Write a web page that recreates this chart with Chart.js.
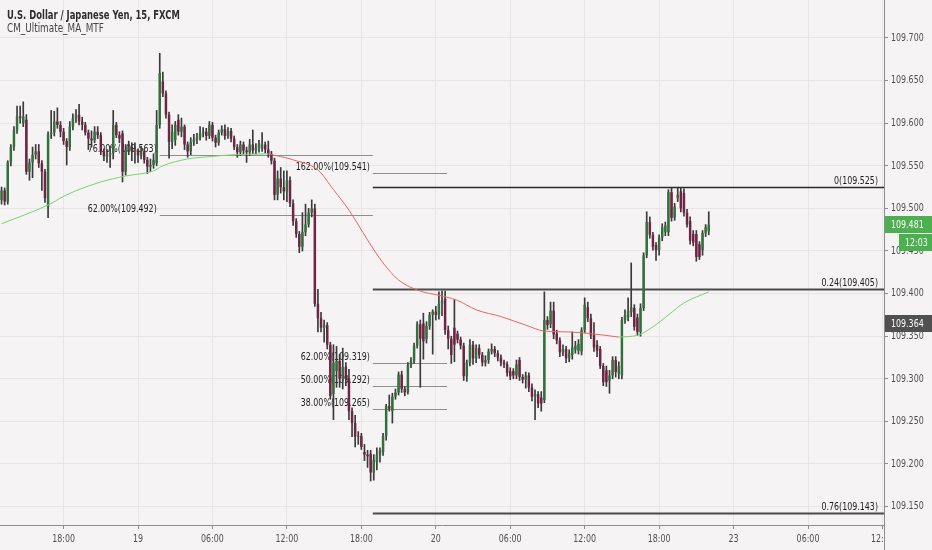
<!DOCTYPE html>
<html>
<head>
<meta charset="utf-8">
<script src="https://cdn.jsdelivr.net/npm/chart.js@4.4.1/dist/chart.umd.min.js"></script>
<style>
html, body { margin: 0; padding: 0; background: #f5f3f4; }
canvas { display: block; }
</style>
</head>
<body>
<canvas id="chart" width="932" height="550"></canvas>
<script>
// USDJPY 15 min candles (one entry per bar)
const opens = [
  109.510,109.521,109.508,109.554,109.572,109.592,109.608,109.600,109.604,109.543,
  109.554,109.563,109.567,109.553,109.543,109.502,109.587,109.589,109.602,109.598,
  109.590,109.579,109.572,109.596,109.606,109.610,109.602,109.598,109.589,109.582,
  109.580,109.590,109.586,109.567,109.561,109.563,109.565,109.598,109.586,109.588,
  109.543,109.569,109.572,109.567,109.569,109.562,109.567,109.557,109.549,109.551,
  109.553,109.598,109.649,109.635,109.610,109.578,109.580,109.604,109.590,109.596,
  109.575,109.567,109.578,109.581,109.583,109.588,109.590,109.585,109.598,109.583,
  109.577,109.589,109.593,109.585,109.591,109.582,109.572,109.566,109.575,109.568,
  109.566,109.575,109.568,109.571,109.570,109.575,109.569,109.564,109.556,109.516,
  109.535,109.525,109.520,109.533,109.506,109.485,109.470,109.455,109.472,109.481,
  109.495,109.500,109.388,109.371,109.360,109.363,109.340,109.282,109.309,109.321,
  109.300,109.314,109.300,109.262,109.248,109.232,109.233,109.214,109.211,109.212,
  109.190,109.202,109.211,109.214,109.233,109.268,109.262,109.279,109.284,109.305,
  109.288,109.284,109.316,109.321,109.339,109.364,109.365,109.347,109.362,109.375,
  109.379,109.375,109.388,109.394,109.357,109.347,109.360,109.353,109.346,109.339,
  109.303,109.319,109.340,109.324,109.336,109.328,109.319,109.322,109.332,109.335,
  109.330,109.325,109.319,109.317,109.309,109.309,109.304,109.322,109.302,109.299,
  109.304,109.290,109.279,109.282,109.278,109.275,109.369,109.364,109.380,109.353,
  109.345,109.331,109.335,109.324,109.328,109.334,109.333,109.332,109.357,109.384,
  109.371,109.352,109.340,109.335,109.315,109.310,109.298,109.304,109.322,109.306,
  109.304,109.369,109.372,109.378,109.383,109.372,109.355,109.383,109.445,109.484,
  109.469,109.457,109.451,109.466,109.472,109.472,109.519,109.489,109.512,109.520,
  109.518,109.495,109.485,109.470,109.470,109.458,109.451,109.471,109.473
];
const highs = [
  109.525,109.524,109.556,109.575,109.596,109.620,109.620,109.625,109.610,109.558,
  109.572,109.575,109.575,109.556,109.546,109.590,109.615,109.614,109.618,109.602,
  109.594,109.582,109.602,109.611,109.616,109.622,109.607,109.601,109.592,109.591,
  109.596,109.596,109.589,109.570,109.569,109.573,109.615,109.601,109.590,109.591,
  109.575,109.579,109.577,109.577,109.570,109.573,109.570,109.560,109.558,109.564,
  109.615,109.682,109.660,109.638,109.613,109.598,109.602,109.610,109.606,109.598,
  109.578,109.583,109.587,109.588,109.596,109.595,109.594,109.602,109.601,109.586,
  109.592,109.597,109.598,109.595,109.594,109.585,109.575,109.579,109.578,109.572,
  109.581,109.592,109.576,109.580,109.589,109.578,109.579,109.567,109.559,109.544,
  109.548,109.544,109.544,109.537,109.510,109.488,109.473,109.495,109.505,109.500,
  109.510,109.505,109.405,109.378,109.369,109.366,109.343,109.340,109.338,109.329,
  109.336,109.319,109.311,109.266,109.257,109.238,109.236,109.223,109.216,109.216,
  109.211,109.219,109.219,109.236,109.270,109.281,109.283,109.288,109.308,109.309,
  109.291,109.319,109.325,109.342,109.367,109.369,109.377,109.367,109.378,109.381,
  109.385,109.402,109.403,109.403,109.362,109.350,109.393,109.356,109.349,109.342,
  109.322,109.346,109.344,109.340,109.340,109.331,109.327,109.335,109.341,109.338,
  109.333,109.328,109.322,109.320,109.313,109.312,109.322,109.325,109.305,109.308,
  109.307,109.294,109.287,109.285,109.285,109.402,109.373,109.390,109.390,109.357,
  109.348,109.340,109.338,109.334,109.355,109.344,109.346,109.360,109.395,109.390,
  109.376,109.366,109.345,109.338,109.318,109.315,109.310,109.326,109.326,109.320,
  109.372,109.381,109.395,109.436,109.387,109.376,109.388,109.448,109.496,109.490,
  109.472,109.460,109.469,109.482,109.484,109.522,109.524,109.506,109.524,109.524,
  109.523,109.499,109.490,109.474,109.474,109.461,109.474,109.481,109.496
];
const lows = [
  109.505,109.504,109.505,109.550,109.568,109.588,109.600,109.596,109.540,109.533,
  109.536,109.558,109.548,109.521,109.507,109.489,109.582,109.585,109.594,109.584,
  109.575,109.551,109.568,109.592,109.601,109.598,109.592,109.586,109.569,109.572,
  109.577,109.582,109.563,109.556,109.554,109.548,109.558,109.583,109.577,109.531,
  109.539,109.563,109.556,109.553,109.554,109.558,109.553,109.541,109.543,109.547,
  109.550,109.594,109.631,109.606,109.559,109.570,109.574,109.586,109.584,109.569,
  109.560,109.563,109.574,109.576,109.580,109.584,109.580,109.582,109.579,109.572,
  109.574,109.586,109.581,109.582,109.578,109.569,109.560,109.562,109.564,109.554,
  109.562,109.564,109.564,109.566,109.567,109.565,109.560,109.552,109.510,109.510,
  109.518,109.510,109.508,109.502,109.480,109.466,109.448,109.450,109.468,109.478,
  109.490,109.385,109.355,109.355,109.343,109.335,109.276,109.252,109.290,109.290,
  109.288,109.292,109.252,109.232,109.220,109.223,109.217,109.204,109.196,109.180,
  109.181,109.193,109.202,109.210,109.228,109.262,109.248,109.276,109.281,109.284,
  109.280,109.282,109.313,109.318,109.336,109.290,109.323,109.342,109.358,109.329,
  109.369,109.370,109.374,109.352,109.335,109.318,109.320,109.342,109.335,109.298,
  109.297,109.315,109.317,109.319,109.324,109.315,109.315,109.318,109.329,109.326,
  109.321,109.315,109.313,109.303,109.299,109.300,109.300,109.298,109.295,109.289,
  109.285,109.274,109.252,109.266,109.262,109.272,109.358,109.360,109.347,109.341,
  109.326,109.327,109.319,109.320,109.323,109.330,109.329,109.328,109.354,109.367,
  109.347,109.332,109.326,109.312,109.292,109.291,109.283,109.300,109.302,109.300,
  109.300,109.365,109.368,109.373,109.357,109.351,109.350,109.380,109.442,109.465,
  109.451,109.439,109.445,109.462,109.468,109.468,109.485,109.486,109.508,109.496,
  109.491,109.478,109.458,109.456,109.438,109.440,109.445,109.467,109.469
];
const closes = [
  109.521,109.508,109.554,109.572,109.592,109.608,109.606,109.608,109.543,109.554,
  109.563,109.567,109.553,109.543,109.512,109.587,109.589,109.602,109.598,109.590,
  109.579,109.572,109.596,109.606,109.610,109.602,109.598,109.589,109.582,109.580,
  109.590,109.586,109.567,109.561,109.563,109.565,109.598,109.586,109.582,109.543,
  109.569,109.572,109.567,109.569,109.562,109.567,109.557,109.549,109.551,109.557,
  109.598,109.659,109.635,109.610,109.578,109.590,109.598,109.590,109.596,109.575,
  109.567,109.578,109.581,109.583,109.588,109.590,109.585,109.598,109.583,109.577,
  109.589,109.593,109.585,109.591,109.582,109.572,109.566,109.575,109.568,109.566,
  109.575,109.568,109.571,109.576,109.575,109.569,109.564,109.556,109.516,109.535,
  109.525,109.520,109.533,109.506,109.485,109.470,109.455,109.472,109.481,109.495,
  109.500,109.388,109.371,109.360,109.363,109.340,109.280,109.319,109.321,109.300,
  109.314,109.300,109.262,109.248,109.232,109.233,109.220,109.211,109.209,109.190,
  109.205,109.211,109.216,109.233,109.268,109.265,109.279,109.284,109.305,109.288,
  109.284,109.316,109.321,109.339,109.364,109.347,109.344,109.362,109.375,109.379,
  109.375,109.388,109.391,109.357,109.347,109.328,109.340,109.346,109.339,109.303,
  109.319,109.340,109.324,109.336,109.328,109.319,109.322,109.332,109.335,109.330,
  109.325,109.319,109.317,109.307,109.303,109.304,109.317,109.302,109.299,109.304,
  109.290,109.279,109.282,109.271,109.271,109.369,109.363,109.380,109.352,109.345,
  109.331,109.335,109.324,109.330,109.337,109.339,109.341,109.357,109.387,109.371,
  109.351,109.337,109.333,109.315,109.296,109.296,109.304,109.322,109.308,109.315,
  109.369,109.375,109.380,109.384,109.361,109.355,109.383,109.445,109.484,109.469,
  109.455,109.451,109.466,109.478,109.480,109.519,109.489,109.502,109.516,109.500,
  109.495,109.481,109.462,109.460,109.443,109.443,109.471,109.478,109.481
];

// CM_Ultimate_MA_MTF: green while rising, red while falling (bar index, value)
const maRiseAIdx = [0, 15, 21, 32, 40, 49, 52, 60, 68, 75, 86];
const maRiseAVal = [109.482, 109.504, 109.516, 109.531, 109.538, 109.544, 109.550, 109.558, 109.561, 109.563, 109.564];
const maFallIdx = [86, 94, 102, 107, 112, 118, 123, 128, 135, 141, 147, 153, 161, 169, 175, 183, 190, 199];
const maFallVal = [109.564, 109.557, 109.545, 109.522, 109.498, 109.463, 109.436, 109.416, 109.403, 109.398, 109.392, 109.381, 109.373, 109.363, 109.356, 109.355, 109.353, 109.349];
const maRiseBIdx = [199, 205, 210, 215, 220, 228];
const maRiseBVal = [109.349, 109.351, 109.361, 109.375, 109.389, 109.402];

// fibonacci levels
const fibLabels = ['76.00%(109.563)', '62.00%(109.492)', '162.00%(109.541)', '0(109.525)', '0.24(109.405)',
                   '62.00%(109.319)', '50.00%(109.292)', '38.00%(109.265)', '0.76(109.143)'];
const fibValues = [109.563, 109.492, 109.541, 109.525, 109.405, 109.319, 109.292, 109.265, 109.143];
const fibFrom = [51, 51, 119.7, 119.7, 119.7, 119.7, 119.7, 119.7, 119.7];
const fibTo = [119.7, 119.7, 143.6, null, null, 143.6, 143.6, 143.6, null]; // null = to the price scale

// axes
const barSlots = 285;
const xTickIdx = [20, 44, 68, 92, 116, 140, 164, 188, 212, 236, 260, 284];
const xTickLabels = ['18:00', '19', '06:00', '12:00', '18:00', '20', '06:00', '12:00', '18:00', '23', '06:00', '12:00'];
const yTicks = [109.15, 109.2, 109.25, 109.3, 109.35, 109.4, 109.45, 109.5, 109.55, 109.6, 109.65, 109.7];
const yMin = 109.1284, yMax = 109.7446;

const lastPrice = 109.481, lastPriceText = '109.481', countdown = '12:03';
const maTagPrice = 109.364, maTagText = '109.364';
const title = 'U.S. Dollar / Japanese Yen, 15, FXCM';
const subtitle = 'CM_Ultimate_MA_MTF';

const FONT = "'DejaVu Sans Condensed', 'DejaVu Sans', sans-serif";
const NARROW = 0.8;   // the screenshot's text is squeezed horizontally
const BG = '#f5f3f4';
const GRID = '#e7e5e6';
const AXIS = '#8c8c8c';
const LABEL = '#505050';
const UP = '#33703b';
const DOWN = '#702343';

Chart.defaults.font.family = FONT;
Chart.defaults.font.size = 11;

const categories = Array.from({ length: barSlots }, (_, i) => i);

function sparse(idx, vals) {
    const out = new Array(barSlots).fill(null);
    idx.forEach((k, j) => { out[k] = vals[j]; });
    return out;
}

const bodies = opens.map((o, i) => [o, closes[i]]);
const wicks = lows.map((l, i) => [l, highs[i]]);
const bodyColors = opens.map((o, i) => closes[i] >= o ? UP : DOWN);

function maLine(data, color) {
    return {
        type: 'line',
        data: data,
        borderColor: color,
        borderWidth: 1,
        pointRadius: 0,
        spanGaps: true,
        cubicInterpolationMode: 'monotone',
        order: 0,
    };
}

// text drawn narrower than the font's natural width
function narrowText(c, text, x, y, align, sx) {
    c.save();
    c.translate(x, y);
    c.scale(sx, 1);
    c.textAlign = align;
    c.fillText(text, 0, 0);
    c.restore();
}

const overlay = {
    id: 'overlay',
    beforeDraw(chart) {
        const c = chart.ctx;
        c.save();
        c.fillStyle = BG;
        c.fillRect(0, 0, chart.width, chart.height);
        c.restore();
    },
    beforeDatasetsDraw(chart) {
        const { ctx: c, chartArea: a, scales: { x, y } } = chart;
        c.save();
        c.font = '11px ' + FONT;
        c.textBaseline = 'bottom';
        fibValues.forEach((v, i) => {
            const long = fibTo[i] === null;
            const py = Math.round(y.getPixelForValue(v)) + 0.5;
            const x0 = x.getPixelForValue(fibFrom[i]);
            const x1 = long ? a.right : x.getPixelForValue(fibTo[i]);
            c.strokeStyle = long ? (i === 3 ? '#2a2a2a' : '#4a4a4a') : '#8e8e8e';
            c.lineWidth = long ? (i === 3 ? 1.3 : 2) : 1;
            c.beginPath();
            c.moveTo(x0, py);
            c.lineTo(x1, py);
            c.stroke();
            c.fillStyle = '#1d1d1d';
            narrowText(c, fibLabels[i], long ? a.right - 6 : x0 - 3, py - 1, 'right', NARROW);
        });
        c.restore();
    },
    afterDraw(chart) {
        const { ctx: c, chartArea: a, scales: { x, y } } = chart;
        c.save();
        c.font = '11px ' + FONT;
        c.fillStyle = LABEL;

        // axis labels
        c.textBaseline = 'middle';
        yTicks.forEach(v => {
            narrowText(c, v.toFixed(3), a.right + 7, y.getPixelForValue(v), 'left', NARROW);
        });
        xTickIdx.forEach((k, i) => {
            narrowText(c, xTickLabels[i], x.getPixelForValue(k), a.bottom + 14, 'center', NARROW);
        });

        // the last time label runs under the price scale
        c.fillStyle = BG;
        c.fillRect(a.right + 1, a.bottom + 1, chart.width - a.right, chart.height - a.bottom);
        c.strokeStyle = AXIS;
        c.lineWidth = 1;
        c.beginPath();
        c.moveTo(a.right + 0.5, a.bottom);
        c.lineTo(a.right + 0.5, chart.height);
        c.stroke();

        // price tags on the scale
        const tag = (text, top, left, color) => {
            c.fillStyle = color;
            c.fillRect(left, top, chart.width - left, 17);
            c.fillStyle = '#ffffff';
            narrowText(c, text, left === a.right + 1 ? a.right + 7 : left + 6, top + 9, 'left', NARROW);
        };
        const lp = Math.round(y.getPixelForValue(lastPrice));
        tag(lastPriceText, lp - 9, a.right + 1, '#4caf50');
        tag(countdown, lp + 9, a.right + 15, '#4caf50');
        const mp = Math.round(y.getPixelForValue(maTagPrice));
        tag(maTagText, mp - 9, a.right + 1, '#505050');

        // title
        c.textBaseline = 'alphabetic';
        c.fillStyle = '#2e2e2e';
        c.font = 'bold 12px ' + FONT;
        narrowText(c, title, 7, 19, 'left', 0.78);
        c.fillStyle = '#454545';
        c.font = '12px ' + FONT;
        narrowText(c, subtitle, 7, 32, 'left', 0.82);
        c.restore();
    }
};

new Chart(document.getElementById('chart'), {
    data: {
        labels: categories,
        datasets: [
            maLine(sparse(maRiseAIdx, maRiseAVal), '#74d86c'),
            maLine(sparse(maFallIdx, maFallVal), '#ee6464'),
            maLine(sparse(maRiseBIdx, maRiseBVal), '#74d86c'),
            {
                type: 'bar',
                data: bodies,
                backgroundColor: bodyColors,
                grouped: false,
                barPercentage: 0.8,
                categoryPercentage: 1,
                minBarLength: 1,
                order: 1,
            },
            {
                type: 'bar',
                data: wicks,
                backgroundColor: '#3a3a3a',
                grouped: false,
                barThickness: 1,
                order: 2,
            },
        ]
    },
    options: {
        responsive: false,
        animation: false,
        events: [],
        layout: { padding: 0 },
        plugins: {
            legend: { display: false },
            tooltip: { enabled: false },
        },
        scales: {
            x: {
                type: 'category',
                offset: true,
                grid: { offset: false, color: GRID, tickLength: 4, tickColor: AXIS },
                border: { color: AXIS },
                ticks: { display: false, autoSkip: false },
                afterBuildTicks: s => { s.ticks = xTickIdx.map(v => ({ value: v })); },
                afterFit: s => { s.height = 25; },
            },
            y: {
                type: 'linear',
                position: 'right',
                min: yMin,
                max: yMax,
                grid: { color: GRID, tickLength: 4, tickColor: AXIS },
                border: { color: AXIS },
                ticks: { display: false },
                afterBuildTicks: s => { s.ticks = yTicks.map(v => ({ value: v })); },
                afterFit: s => { s.width = 48; },
            },
        }
    },
    plugins: [overlay]
});
</script>
</body>
</html>
